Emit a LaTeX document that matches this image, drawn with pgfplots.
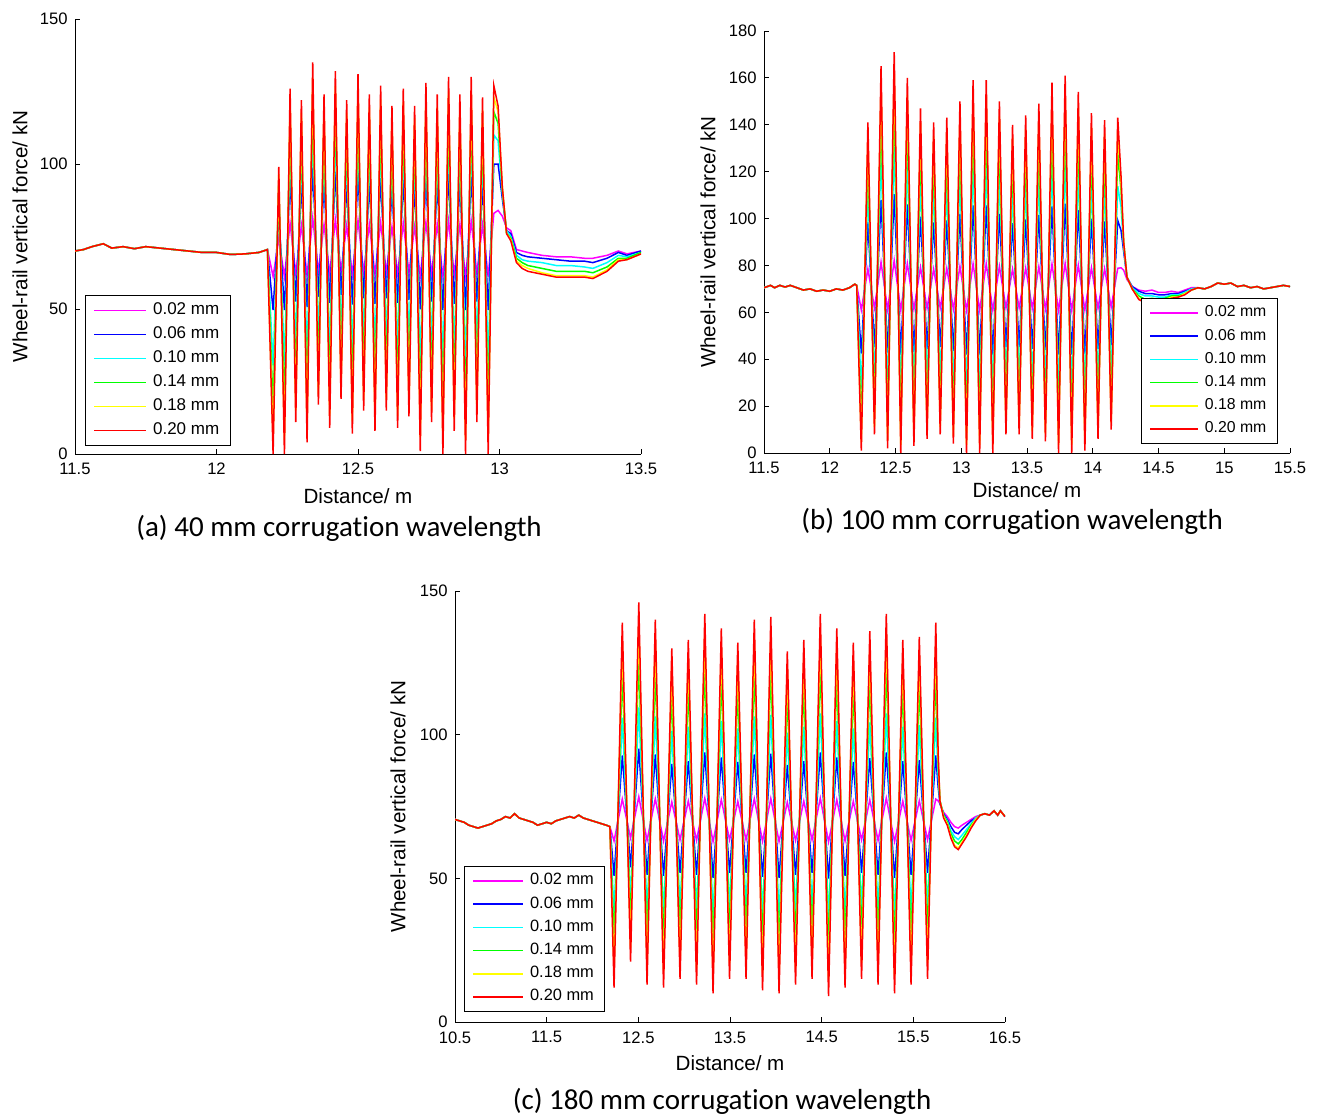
\documentclass[border=0pt]{standalone}
\usepackage{fontspec}
\setmainfont{Liberation Sans}
\newfontfamily\calibri[Ligatures=NoCommon]{Carlito}
\usepackage{pgfplots}
\usepackage{pgfplotstable}
\pgfplotsset{compat=1.18}

\definecolor{cM}{rgb}{1,0,1}
\definecolor{cB}{rgb}{0,0,1}
\definecolor{cC}{rgb}{0,1,1}
\definecolor{cG}{rgb}{0,1,0}
\definecolor{cY}{rgb}{1,1,0}
\definecolor{cR}{rgb}{1,0,0}

\pgfplotstableread{
x m b c g y r
11.50 70 70 70 70 70 70
11.53 70.5 70.5 70.5 70.5 70.5 70.5
11.56 71.5 71.5 71.5 71.5 71.5 71.5
11.60 72.5 72.5 72.5 72.5 72.5 72.5
11.63 71 71 71 71 71 71
11.67 71.5 71.5 71.5 71.5 71.5 71.5
11.71 70.8 70.8 70.8 70.8 70.8 70.8
11.75 71.5 71.5 71.5 71.5 71.5 71.5
11.80 71 71 71 71 71 71
11.85 70.5 70.5 70.5 70.5 70.5 70.5
11.90 70 70 70 70 70 70
11.95 69.5 69.5 69.5 69.5 69.5 69.5
12.00 69.5 69.5 69.5 69.5 69.5 69.5
12.05 68.8 68.8 68.8 68.8 68.8 68.8
12.10 69 69 69 69 69 69
12.15 69.5 69.5 69.5 69.5 69.5 69.5
12.18 70.5 70.5 70.5 70.5 70.5 70.5
12.20 61.2 49.6 30.6 15.6 4.8 0
12.22 74.2 82.3 88.5 92.8 96.5 99
12.24 61.2 49.6 30.6 15.6 4.8 0
12.26 79.6 94.7 106.3 114.4 121.4 126
12.28 62.3 52.6 36.7 24.1 15.0 11
12.30 78.8 92.8 103.6 111.2 117.7 122
12.32 61.6 50.7 32.8 18.7 8.5 4
12.34 81.4 98.8 112.2 121.6 129.6 135
12.36 62.9 54.2 40.0 28.7 20.6 17
12.38 79.2 93.8 105 112.8 119.5 124
12.40 62.1 52.1 35.6 22.6 13.1 9
12.42 80.8 97.4 110.2 119.2 126.9 132
12.44 63.1 54.8 41.0 30.3 22.4 19
12.46 78.8 92.8 103.6 111.2 117.7 122
12.48 61.9 51.5 34.5 21.0 11.3 7
12.50 80.6 97 109.6 118.4 126 131
12.52 62.7 53.7 38.9 27.2 18.7 15
12.54 79.2 93.8 105 112.8 119.5 124
12.56 62 51.8 35 21.8 12.2 8
12.58 79.8 95.1 106.9 115.2 122.3 127
12.60 62.7 53.7 38.9 27.2 18.7 15
12.62 78.4 91.9 102.3 109.6 115.8 120
12.64 62.1 52.1 35.6 22.6 13.1 9
12.66 79.6 94.7 106.3 114.4 121.4 126
12.68 62.5 53.2 37.8 25.7 16.9 13
12.70 78.4 91.9 102.3 109.6 115.8 120
12.72 61.3 49.9 31.2 16.4 5.7 1
12.74 80 95.6 107.6 116 123.2 128
12.76 62.3 52.6 36.7 24.1 15.0 11
12.78 79.2 93.8 105 112.8 119.5 124
12.80 61.2 49.6 30.6 15.6 4.8 0
12.82 80.4 96.5 108.9 117.6 125 130
12.84 62 51.8 35 21.8 12.2 8
12.86 79.2 93.8 105 112.8 119.5 124
12.88 61.2 49.6 30.6 15.6 4.8 0
12.90 80.4 96.5 108.9 117.6 125 130
12.92 62.3 52.6 36.7 24.1 15.0 11
12.94 79 93.3 104.3 112 118.6 123
12.96 61.2 49.6 30.6 15.6 4.8 0
12.98 83 100 110 118 123 127
12.995 84 100 108 114 118 120
13.01 82 88 90 91 92 92
13.025 78 77 77 76 76 76
13.04 77 76 75 74.5 74 73.5
13.06 70.5 69.5 68.5 67.5 66.5 66
13.08 70 68.5 67 66 65 64
13.10 69.5 68 66.5 65 64 63
13.15 68.5 67.5 66 64 62.5 62
13.20 68 67 65 63 61.5 61
13.25 68 66.5 65 63 61.5 61
13.30 67.5 66.5 64.5 63 61.5 61
13.33 67.5 66 64 62.5 61 60.5
13.38 68.5 67.5 66 64.5 63.5 63
13.42 70 69.5 68.5 67.5 67 66.5
13.45 69 68.5 68 67.5 67 67
13.50 70 70 69.5 69.5 69 69
}\tabA

\pgfplotstableread{
x m b c g y r
11.50 70.5 70.5 70.5 70.5 70.5 70.5
11.55 71.5 71.5 71.5 71.5 71.5 71.5
11.58 70.5 70.5 70.5 70.5 70.5 70.5
11.62 71.5 71.5 71.5 71.5 71.5 71.5
11.66 70.8 70.8 70.8 70.8 70.8 70.8
11.70 71.5 71.5 71.5 71.5 71.5 71.5
11.75 70.5 70.5 70.5 70.5 70.5 70.5
11.80 69.5 69.5 69.5 69.5 69.5 69.5
11.85 70 70 70 70 70 70
11.90 69 69 69 69 69 69
11.95 69.5 69.5 69.5 69.5 69.5 69.5
12.00 69 69 69 69 69 69
12.05 70 70 70 70 70 70
12.10 69.5 69.5 69.5 69.5 69.5 69.5
12.15 70.5 70.5 70.5 70.5 70.5 70.5
12.19 72 72 72 72 72 72
12.205 71.5 71.5 71.5 71.5 71.5 71.5
12.24 61 42.4 27.2 12.7 4.5 1
12.29 78.5 98.4 112.6 126.8 135.3 141
12.34 61.9 45.2 31.6 18.5 11.1 8
12.39 81.4 108 127 146 157.4 165
12.44 61.2 42.8 27.8 13.6 5.4 2
12.49 82.1 110.4 130.6 150.8 162.9 171
12.54 60.9 42 26.6 11.9 3.5 0
12.59 80.8 106 124 142 152.8 160
12.64 61.3 43.2 28.5 14.4 6.4 3
12.69 79.2 100.8 116.2 131.6 140.8 147
12.74 61.7 44.4 30.3 16.9 9.2 6
12.79 78.5 98.4 112.6 126.8 135.3 141
12.84 61.9 45.2 31.6 18.5 11.1 8
12.89 78.8 99.2 113.8 128.4 137.2 143
12.94 61.4 43.6 29.1 15.2 7.3 4
12.99 79.6 102 118 134 143.6 150
13.04 60.9 42 26.6 11.9 3.5 0
13.09 80.7 105.6 123.4 141.2 151.9 159
13.14 60.9 42 26.6 11.9 3.5 0
13.19 80.7 105.6 123.4 141.2 151.9 159
13.24 60.9 42 26.6 11.9 3.5 0
13.29 79.6 102 118 134 143.6 150
13.34 61.9 45.2 31.6 18.5 11.1 8
13.39 78.4 98 112 126 134.4 140
13.44 61.9 45.2 31.6 18.5 11.1 8
13.49 78.9 99.6 114.4 129.2 138.1 144
13.54 61.7 44.4 30.3 16.9 9.2 6
13.59 79.5 101.6 117.4 133.2 142.7 149
13.64 61.5 44 29.7 16 8.3 5
13.69 80.6 105.2 122.8 140.4 151 158
13.74 60.9 42 26.6 11.9 3.5 0
13.79 80.9 106.4 124.6 142.8 153.7 161
13.84 60.9 42 26.6 11.9 3.5 0
13.89 80.1 103.6 120.4 137.2 147.3 154
13.94 61 42.4 27.2 12.7 4.5 1
13.99 79 100 115 130 139 145
14.04 61.7 44.4 30.3 16.9 9.2 6
14.09 78.6 98.8 113.2 127.6 136.2 142
14.14 62.2 46 32.8 20.2 13 10
14.19 78.8 99.2 113.8 128.4 137.2 143
14.215 79 95 105 112 115 118
14.235 78 86 88 90 90 90
14.26 74 75 75 75 75 75
14.30 71 71 70.5 70 70 70
14.35 69.5 69 68 67 66 65.5
14.40 69 68 67 65.5 64.5 64
14.45 69.5 68 67 66 65 64.5
14.50 68.5 67.5 66.5 65.5 65 64.5
14.55 68.5 67.5 66.5 66 65.5 65
14.60 69 68 67.5 67 66.5 66
14.65 68.5 68 67.5 67 66.5 66.5
14.70 69.5 69 68.5 68 68 67.5
14.75 70.5 70 70 69.5 69.5 69.5
14.80 70.5 70.5 70.5 70.5 70.5 70.5
14.85 70 70 70 70 70 70
14.90 71 71 71 71 71 71
14.95 72.5 72.5 72.5 72.5 72.5 72.5
15.00 72 72 72 72 72 72
15.05 72.5 72.5 72.5 72.5 72.5 72.5
15.10 71 71 71 71 71 71
15.15 71.5 71.5 71.5 71.5 71.5 71.5
15.20 70.5 70.5 70.5 70.5 70.5 70.5
15.25 71 71 71 71 71 71
15.30 70 70 70 70 70 70
15.35 70.5 70.5 70.5 70.5 70.5 70.5
15.40 71 71 71 71 71 71
15.45 71.5 71.5 71.5 71.5 71.5 71.5
15.50 71 71 71 71 71 71
}\tabB

\pgfplotstableread{
x m b c g y r
10.50 70.5 70.5 70.5 70.5 70.5 70.5
10.55 70 70 70 70 70 70
10.60 69.5 69.5 69.5 69.5 69.5 69.5
10.65 68.5 68.5 68.5 68.5 68.5 68.5
10.70 68 68 68 68 68 68
10.75 67.5 67.5 67.5 67.5 67.5 67.5
10.80 68 68 68 68 68 68
10.85 68.5 68.5 68.5 68.5 68.5 68.5
10.90 69 69 69 69 69 69
10.95 70 70 70 70 70 70
11.00 70.5 70.5 70.5 70.5 70.5 70.5
11.05 71.5 71.5 71.5 71.5 71.5 71.5
11.10 71 71 71 71 71 71
11.15 72.5 72.5 72.5 72.5 72.5 72.5
11.20 71 71 71 71 71 71
11.25 70.5 70.5 70.5 70.5 70.5 70.5
11.30 70 70 70 70 70 70
11.35 69.5 69.5 69.5 69.5 69.5 69.5
11.40 68.5 68.5 68.5 68.5 68.5 68.5
11.45 69 69 69 69 69 69
11.50 69.5 69.5 69.5 69.5 69.5 69.5
11.55 69 69 69 69 69 69
11.60 70 70 70 70 70 70
11.65 70.5 70.5 70.5 70.5 70.5 70.5
11.70 71 71 71 71 71 71
11.75 71.5 71.5 71.5 71.5 71.5 71.5
11.80 71 71 71 71 71 71
11.85 72 72 72 72 72 72
11.90 71 71 71 71 71 71
11.95 70.5 70.5 70.5 70.5 70.5 70.5
12.00 70 70 70 70 70 70
12.05 69.5 69.5 69.5 69.5 69.5 69.5
12.10 69 69 69 69 69 69
12.15 68.5 68.5 68.5 68.5 68.5 68.5
12.19 68 68 68 68 68 68
12.235 63 50.9 38.1 27.7 17.8 12
12.325 77.6 92.8 105.9 121.8 132.1 139
12.415 64.1 53.8 43 34.2 25.9 21
12.505 78.4 95.1 109.5 127 138.4 146
12.595 63.2 51.2 38.7 28.4 18.7 13
12.685 77.7 93.1 106.4 122.5 133 140
12.775 63 50.9 38.1 27.7 17.8 12
12.865 76.6 89.8 101.2 115 124 130
12.955 63.4 51.9 39.8 29.9 20.5 15
13.045 76.9 90.8 102.8 117.3 126.7 133
13.135 63.2 51.2 38.7 28.4 18.7 13
13.225 77.9 93.8 107.4 124 134.8 142
13.315 62.8 50.2 37 26.2 16 10
13.405 77.4 92.1 104.8 120.3 130.3 137
13.495 63.4 51.9 39.8 29.9 20.5 15
13.585 76.8 90.5 102.2 116.5 125.8 132
13.675 63.4 51.9 39.8 29.9 20.5 15
13.765 77.7 93.1 106.4 122.5 133 140
13.855 62.9 50.5 37.6 26.9 16.9 11
13.945 77.8 93.4 106.9 123.3 133.9 141
14.035 62.8 50.2 37 26.2 16 10
14.125 76.5 89.5 100.7 114.3 123.1 129
14.215 63.2 51.2 38.7 28.4 18.7 13
14.305 76.9 90.8 102.8 117.3 126.7 133
14.395 63.4 51.9 39.8 29.9 20.5 15
14.485 77.9 93.8 107.4 124 134.8 142
14.575 62.7 49.9 36.5 25.5 15.1 9
14.665 77.4 92.1 104.8 120.3 130.3 137
14.755 63 50.9 38.1 27.7 17.8 12
14.845 76.8 90.5 102.2 116.5 125.8 132
14.935 63.4 51.9 39.8 29.9 20.5 15
15.025 77.3 91.8 104.3 119.5 129.4 136
15.115 63.2 51.2 38.7 28.4 18.7 13
15.205 77.9 93.8 107.4 124 134.8 142
15.295 62.8 50.2 37 26.2 16 10
15.385 76.9 90.8 102.8 117.3 126.7 133
15.475 63.2 51.2 38.7 28.4 18.7 13
15.565 77 91.1 103.3 118 127.6 134
15.655 63.4 51.9 39.8 29.9 20.5 15
15.745 77.6 92.8 105.9 121.8 132.1 139
15.77 77 82 86 90 92 94
15.79 76 76 77 77 77 77
15.83 73 72.5 72 72 71.5 71
15.87 71.5 70.5 70 69.5 69 68.5
15.91 69.5 68 66.5 65.5 64.5 64
15.95 68 66 64.5 63 61.5 61
15.99 67.5 65.5 63.5 62 60.5 60
16.03 68.5 67 65 63.5 62.5 62
16.08 69.5 68.5 67 66 65 64.5
16.13 70.5 70 69 68.5 68 67.5
16.18 71.5 71 71 70.5 70.5 70
16.23 72 72 72 72 72 72
16.28 72.5 72.5 72.5 72.5 72.5 72.5
16.33 72 72 72 72 72 72
16.38 73.5 73.5 73.5 73.5 73.5 73.5
16.42 72 72 72 72 72 72
16.45 73.5 73.5 73.5 73.5 73.5 73.5
16.50 71.5 71.5 71.5 71.5 71.5 71.5
}\tabC

\pgfplotsset{
  panel/.style={
    scale only axis,
    axis x line*=bottom, axis y line*=left,
    axis line style={line width=0.5pt, black},
    tick align=inside, major tick length=2.5pt,
    tick style={black, line width=0.5pt},
    ymin=0,
    /pgf/number format/assume math mode=true,
    tick label style={font=\fontsize{8.3}{10}\selectfont},
    xticklabel style={inner sep=0pt, anchor=north, yshift=-4.5pt},
    yticklabel style={inner sep=0pt, anchor=east, xshift=-3.5pt},
    label style={font=\fontsize{10.3}{12}\selectfont},
    ylabel={Wheel-rail vertical force/ kN},
    xlabel={Distance/ m},
    legend cell align=left,
    legend style={draw=black, line width=0.5pt, fill=white,
      inner xsep=4pt, inner ysep=1.5pt, row sep=0pt,
      /tikz/every odd column/.append style={column sep=1.5pt},
      nodes={inner sep=1.5pt, text height=6.6pt, text depth=2.4pt}},
    legend image code/.code={\draw[#1, line width=0.8pt] (0pt,0pt) -- (26pt,0pt);},
    every axis plot/.append style={line width=0.75pt, mark=none},
  }
}

\newcommand{\sixplots}[1]{%
  \addplot[cM] table[x=x,y=m]{#1};
  \addplot[cB] table[x=x,y=b]{#1};
  \addplot[cC] table[x=x,y=c]{#1};
  \addplot[cG] table[x=x,y=g]{#1};
  \addplot[cY] table[x=x,y=y]{#1};
  \addplot[cR] table[x=x,y=r]{#1};
  \legend{0.02 mm,0.06 mm,0.10 mm,0.14 mm,0.18 mm,0.20 mm}%
}

\begin{document}
\begin{tikzpicture}
\path[use as bounding box] (0pt,0pt) rectangle (660pt,-559.5pt);

% (a)
\begin{axis}[panel,
  at={(37.5pt,-227pt)}, anchor=south west,
  width=283pt, height=217.5pt,
  xmin=11.5, xmax=13.5, ymax=150,
  xtick={11.5,12,12.5,13,13.5}, ytick={0,50,100,150},
  xlabel style={at={(axis description cs:0.5,-0.0966)}, anchor=center},
  ylabel style={at={(axis description cs:-0.0972,0.5)}, anchor=center},
  legend style={at={(0.0177,0.0184)}, anchor=south west, font=\fontsize{8.5}{10}\selectfont},
]
\sixplots{\tabA}
\end{axis}

% (b)
\begin{axis}[panel,
  at={(382pt,-226.5pt)}, anchor=south west,
  width=263pt, height=211pt,
  xmin=11.5, xmax=15.5, ymax=180,
  xtick={11.5,12,12.5,13,13.5,14,14.5,15,15.5}, ytick={0,20,40,60,80,100,120,140,160,180},
  xlabel style={at={(axis description cs:0.5,-0.0877)}, anchor=center},
  ylabel style={at={(axis description cs:-0.1065,0.5)}, anchor=center},
  legend style={at={(0.977,0.0213)}, anchor=south east, font=\fontsize{7.9}{9.5}\selectfont,
    nodes={inner sep=1.5pt, text height=6.3pt, text depth=2.3pt}},
  legend image code/.code={\draw[#1, line width=0.8pt] (0pt,0pt) -- (24pt,0pt);},
]
\sixplots{\tabB}
\end{axis}

% (c)
\begin{axis}[panel,
  at={(227.5pt,-511pt)}, anchor=south west,
  width=275pt, height=215.5pt,
  xmin=10.5, xmax=16.5, ymax=150,
  xtick={10.5,11.5,12.5,13.5,14.5,15.5,16.5}, ytick={0,50,100,150},
  xlabel style={at={(axis description cs:0.5,-0.0951)}, anchor=center},
  ylabel style={at={(axis description cs:-0.1036,0.5)}, anchor=center},
  legend style={at={(0.0164,0.0232)}, anchor=south west, font=\fontsize{8.2}{9.8}\selectfont,
    nodes={inner sep=1.5pt, text height=6.3pt, text depth=2.3pt}},
  legend image code/.code={\draw[#1, line width=0.8pt] (0pt,0pt) -- (25pt,0pt);},
]
\sixplots{\tabC}
\end{axis}

\node[font=\calibri\fontsize{14.5}{17}\selectfont] at (169.5pt,-264pt) {(a) 40 mm corrugation wavelength};
\node[font=\calibri\fontsize{14.5}{17}\selectfont] at (506pt,-260.5pt) {(b) 100 mm corrugation wavelength};
\node[font=\calibri\fontsize{14.5}{17}\selectfont] at (361pt,-550.5pt) {(c) 180 mm corrugation wavelength};
\end{tikzpicture}
\end{document}
